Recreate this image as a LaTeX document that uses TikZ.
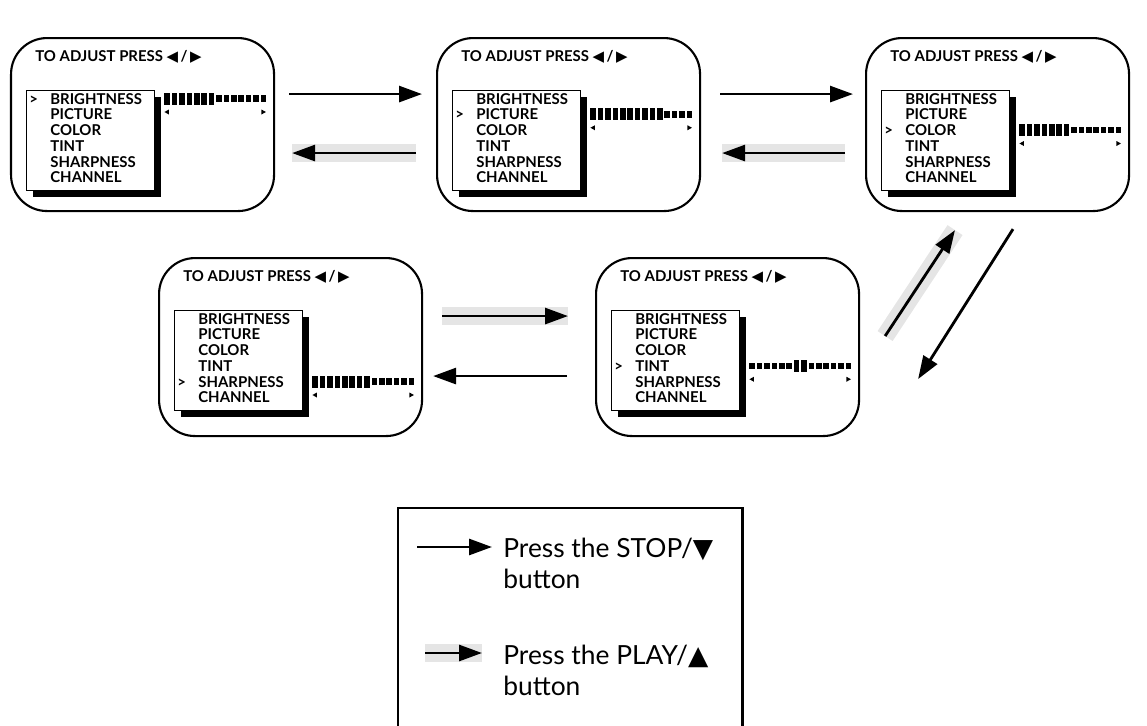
\documentclass[tikz,border=0pt]{standalone}
\usepackage{fontspec}
\setmainfont{Lato}
\newfontfamily\glyphfont{DejaVu Sans}
\usetikzlibrary{positioning,arrows.meta,calc,shadows}
\newcommand{\glyph}[1]{{\glyphfont #1}}
\newcommand{\mitem}[3]{\makebox[0.42cm][l]{\ifnum#1=#2 >\fi}#3}
\tikzset{
  screen/.style={draw,rounded corners=0.72cm,line width=1.2pt,minimum width=5.26cm,inner sep=0pt},
  scrtitle/.style={font=\bfseries\fontsize{8.5}{9}\selectfont,inner sep=0pt},
  menubox/.style={draw,fill=white,line width=0.8pt,minimum width=2.56cm,minimum height=2cm,inner sep=0pt,
    drop shadow={shadow xshift=0.12cm,shadow yshift=-0.12cm,fill=black,opacity=1}},
  menutext/.style={font=\bfseries\fontsize{8.5}{8.93}\selectfont,inner sep=0pt,align=left},
  % ---- arrows of the key ----
  stoparr/.style={-{Triangle[length=4.6mm,width=3.2mm]},line width=1.6pt},  % STOP/down
  playarr/.style={stoparr,preaction={draw=black!10,line width=0.36cm,-}},   % PLAY/up, grey halo
  keytext/.style={font=\fontsize{15}{18}\selectfont,inner sep=0pt},
}
% one menu screen: name, x, y (top left), height, selected row, tall bars from, to
\newcommand{\tvscreen}[7]{%
  \node[screen,minimum height=#4cm,anchor=north west] (#1) at (#2,#3) {};
  \node[scrtitle,anchor=base west] (#1-t) at ($(#1.north west)+(0.5,-0.48)$)
    {TO ADJUST PRESS \glyph{◀}\,/\,\glyph{▶}};
  \node[menubox,anchor=north west] (#1-m) at ($(#1.north west)+(0.32,-1.06)$) {};
  \node[menutext,anchor=north west] (#1-l) at ($(#1-m.north west)+(0.06,-0.06)$)
    {\mitem{#5}{1}{BRIGHTNESS}\\\mitem{#5}{2}{PICTURE}\\\mitem{#5}{3}{COLOR}\\
     \mitem{#5}{4}{TINT}\\\mitem{#5}{5}{SHARPNESS}\\\mitem{#5}{6}{CHANNEL}};
  \begin{scope}[shift={($(#1-m.north east)+(0.18,{-0.17-0.315*(#5-1)})$)}]
    \foreach \i in {1,...,14} {
      \pgfmathsetmacro\segh{(\i>=#6 && \i<=#7) ? 0.12 : 0.065}
      \fill (0.148*\i-0.148,-\segh) rectangle ++(0.11,2*\segh);
    }
    \fill (0,-0.27) -- ++(0.09,0.05) -- ++(0,-0.1) -- cycle;
    \fill (2.03,-0.27) -- ++(-0.09,0.05) -- ++(0,-0.1) -- cycle;
  \end{scope}}

\begin{document}
\begin{tikzpicture}
  \useasboundingbox (0,0) rectangle (22.94,-14.52);
  % top row of screens, then bottom row
  \tvscreen{p1}{0.2}{-0.74}{3.46}{1}{1}{7}
  \tvscreen{p2}{8.72}{-0.74}{3.46}{2}{1}{10}
  \tvscreen{p3}{17.3}{-0.74}{3.46}{3}{1}{7}
  \tvscreen{p4}{3.16}{-5.14}{3.56}{5}{1}{8}
  \tvscreen{p5}{11.9}{-5.14}{3.56}{4}{7}{8}
  % arrows between screens
  \draw[stoparr] ($(p1.east)+(0.28,0.61)$) -- ($(p2.west)+(-0.28,0.61)$);
  \draw[playarr] ($(p2.west)+(-0.4,-0.57)$) -- ($(p1.east)+(0.34,-0.57)$);
  \draw[stoparr] ($(p2.east)+(0.38,0.61)$) -- ($(p3.west)+(-0.24,0.61)$);
  \draw[playarr] ($(p3.west)+(-0.4,-0.57)$) -- ($(p2.east)+(0.42,-0.57)$);
  \draw[playarr] ($(p5.east)+(0.5,0.22)$) -- ($(p3.south west)+(1.8,-0.36)$);
  \draw[stoparr] ($(p3.south west)+(2.96,-0.34)$) -- ($(p5.east)+(1.16,-0.64)$);
  \draw[playarr] ($(p4.east)+(0.38,0.62)$) -- ($(p5.west)+(-0.54,0.62)$);
  \draw[stoparr] ($(p5.west)+(-0.56,-0.58)$) -- ($(p4.east)+(0.2,-0.58)$);
  % key, cut off by the page edge
  \draw[line width=1.7pt] (7.96,-15.2) rectangle (14.84,-10.16);
  \node[keytext,anchor=base west] (key1) at (10.06,-11.14) {Press the STOP/\glyph{▼}};
  \node[keytext,anchor=base west] (key1b) at ([yshift=-0.62cm]key1.base west) {button};
  \coordinate (k1tail) at (8.34,-10.94);
  \draw[stoparr] (k1tail) -- ($(k1tail -| key1.west)+(-0.22,0)$);
  \node[keytext,anchor=base west] (key2) at (10.06,-13.28) {Press the PLAY/\glyph{▲}};
  \node[keytext,anchor=base west] (key2b) at ([yshift=-0.62cm]key2.base west) {button};
  \coordinate (k2tail) at (8.5,-13.06);
  \draw[playarr] (k2tail) -- ($(k2tail -| key2.west)+(-0.42,0)$);
\end{tikzpicture}
\end{document}
